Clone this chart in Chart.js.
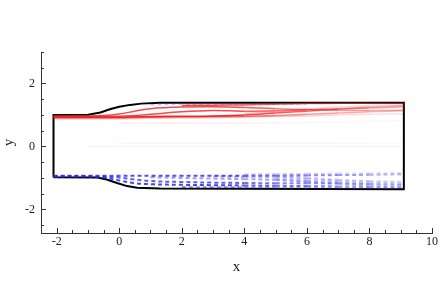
<!DOCTYPE html>
<html>
<head>
<meta charset="utf-8">
<script src="https://cdn.jsdelivr.net/npm/chart.js@4.4.0/dist/chart.umd.min.js"></script>
<style>
  html, body { margin: 0; padding: 0; background: #fff; }
  #wrap { width: 444px; height: 282px; }
</style>
</head>
<body>
<div id="wrap"><canvas id="chart"></canvas></div>
<script>
// tick labels
const xTicks = [-2, 0, 2, 4, 6, 8, 10];
const yTicks = [-2, 0, 2];

// channel outline (closed)
const wallX = [-2.1, -2.1, -1, -0.6, -0.3, 0, 0.35, 0.7, 1.3, 9.1, 9.1, 1.3, 0.57, 0.25, -0.07, -0.4, -0.7, -2.1];
const wallY = [-0.98, 1.0, 1.01, 1.08, 1.18, 1.26, 1.32, 1.36, 1.39, 1.39, -1.36, -1.34, -1.31, -1.26, -1.16, -1.05, -0.99, -0.98];

// x stations of the contour lines
const stations = [-2.1, -1, -0.5, 0, 0.5, 1, 2, 3, 4, 5, 6, 7, 8, 9.1];

// positive contours (red, solid)
const red1 = [0.97, 0.97, 0.98, 1.03, 1.12, 1.20, 1.25, 1.26, 1.24, 1.20, 1.17, 1.15, 1.14, 1.14];
const red2 = [0.95, 0.95, 0.95, 0.96, 0.98, 1.02, 1.10, 1.14, 1.12, 1.13, 1.16, 1.20, 1.25, 1.30];
const red3 = [0.93, 0.93, 0.93, 0.93, 0.94, 0.95, 0.96, 0.97, 1.00, 1.06, 1.12, 1.18, 1.22, 1.26];
const red4 = [0.91, 0.91, 0.91, 0.91, 0.92, 0.93, 0.94, 0.95, 0.96, 0.98, 1.02, 1.06, 1.10, 1.14];
const red5 = [null, null, null, null, null, null, 1.30, 1.31, 1.32, 1.34, 1.36, 1.37, 1.37, 1.37];
const red6 = [0.88, 0.88, 0.88, 0.88, 0.89, 0.90, 0.91, 0.92, 0.93, 0.95, 0.97, 1.00, 1.02, 1.04];
const red7 = [null, null, null, null, null, null, null, null, 1.05, 1.10, 1.18, 1.25, 1.30, 1.33];
const red8 = [null, null, null, 0.74, 0.74, 0.74, 0.74, 0.74, 0.74, 0.75, 0.76, 0.78, 0.80, 0.82];
const red9 = [null, null, null, 0.10, 0.10, 0.10, 0.10, 0.10, 0.10, 0.10, 0.10, 0.10, 0.10, 0.10];
const zero = [null, 0, 0, 0, 0, 0, 0, 0, 0, 0, 0, 0, 0, 0];

// negative contours (blue, dashed)
const blue1 = [-0.93, -0.93, -0.93, -0.93, -0.93, -0.93, -0.93, -0.93, -0.93, -0.93, -0.92, -0.91, -0.90, -0.88];
const blue2 = [-0.95, -0.95, -0.96, -0.99, -1.05, -1.10, -1.13, -1.15, -1.16, -1.17, -1.17, -1.18, -1.20, -1.22];
const blue3 = [-0.96, -0.96, -0.99, -1.08, -1.17, -1.20, -1.22, -1.23, -1.24, -1.25, -1.26, -1.27, -1.28, -1.30];
const blue4 = [null, null, null, null, null, -0.98, -1.00, -1.02, -1.04, -1.07, -1.10, -1.13, -1.17, -1.20];
const blue5 = [null, null, null, null, null, null, null, -0.95, -0.97, -1.00, -1.04, -1.08, -1.12, -1.15];
const blue6 = [null, null, null, null, null, null, null, null, -0.89, -0.88, -0.87, -0.86, -0.85, -0.83];
const blue7 = [null, null, null, null, null, null, -1.29, -1.30, -1.30, -1.31, -1.31, -1.32, -1.32, -1.32];
const blue8 = [null, null, null, null, null, 1.33, 1.35, 1.35, 1.35, 1.35, 1.35, null, null, null];
const blue9 = [null, null, null, null, null, null, null, null, null, -0.95, -1.0, -1.06, -1.1, -1.12];
const blue10 = [null, null, null, null, null, null, null, null, null, -1.05, -1.12, -1.18, -1.24, -1.27];

function pts(ys) {
  const out = [];
  ys.forEach((y, i) => { if (y !== null) out.push({ x: stations[i], y: y }); });
  return out;
}

// contours get lighter towards the outlet
function fade(x) {
  if (x < 3) return 1;
  return Math.max(0.35, 1 - (x - 3) * 0.11);
}

function red(ys, a) {
  return {
    data: pts(ys), borderWidth: 1.5, tension: 0.35,
    borderColor: `rgba(235,30,30,${a})`,
    segment: { borderColor: c => `rgba(235,30,30,${a * fade(c.p0.parsed.x)})` }
  };
}
function blue(ys, a) {
  return {
    data: pts(ys), borderWidth: 2, borderDash: [4, 3], tension: 0.35,
    borderColor: `rgba(40,40,220,${a})`,
    segment: { borderColor: c => `rgba(40,40,220,${a * fade(c.p0.parsed.x)})` }
  };
}

const inwardTicks = {
  id: 'inwardTicks',
  afterDraw(chart) {
    const ctx = chart.ctx;
    const xs = chart.scales.x, ys = chart.scales.y;
    ctx.save();
    ctx.strokeStyle = '#333';
    ctx.lineWidth = 1;
    ctx.beginPath();
    for (let v = -2.5; v <= 10.001; v += 0.5) {
      const px = Math.round(xs.getPixelForValue(v)) + 0.5;
      const len = Math.abs(v % 2) < 1e-6 ? 5 : 3;
      ctx.moveTo(px, xs.top);
      ctx.lineTo(px, xs.top - len);
    }
    for (let v = -2.5; v <= 3.001; v += 0.5) {
      const py = Math.round(ys.getPixelForValue(v)) + 0.5;
      const len = Math.abs(v % 2) < 1e-6 ? 5 : 3;
      ctx.moveTo(ys.right, py);
      ctx.lineTo(ys.right + len, py);
    }
    ctx.stroke();
    ctx.restore();
  }
};

const font = { family: 'Liberation Serif', size: 12 };

new Chart(document.getElementById('chart'), {
  type: 'scatter',
  data: {
    datasets: [
      red(red9, 0.06), red(red8, 0.08),
      { data: pts(zero), borderColor: 'rgba(150,150,150,0.12)', borderWidth: 1, tension: 0 },
      red(red7, 0.3), red(red6, 0.3), red(red4, 0.65), red(red3, 0.9),
      red(red2, 0.8), red(red1, 0.8), red(red5, 0.8),
      blue(blue8, 0.25), blue(blue6, 0.3), blue(blue5, 0.35), blue(blue4, 0.45),
      blue(blue9, 0.35), blue(blue10, 0.35),
      blue(blue7, 0.5), blue(blue2, 0.75), blue(blue3, 0.85), blue(blue1, 0.8),
      {
        data: wallX.map((x, i) => ({ x: x, y: wallY[i] })),
        borderColor: '#000', borderWidth: 2, tension: 0
      }
    ].map(d => Object.assign({ showLine: true, pointRadius: 0, fill: false }, d))
  },
  options: {
    animation: false,
    responsive: true,
    maintainAspectRatio: false,
    layout: { padding: { top: 52, right: 12, left: 0, bottom: 0 } },
    plugins: {
      legend: { display: false },
      tooltip: { enabled: false }
    },
    scales: {
      x: {
        type: 'linear', min: -2.5, max: 10,
        afterFit: s => { s.height = 49; },
        afterBuildTicks: s => { s.ticks = xTicks.map(v => ({ value: v })); },
        grid: { display: false, drawTicks: false },
        border: { display: true, color: '#333', width: 1 },
        ticks: { font: font, color: '#222', padding: 2, maxRotation: 0 },
        title: { display: true, text: 'x', font: { family: 'Liberation Serif', size: 15 }, color: '#222', padding: { top: 6, bottom: 6 } }
      },
      y: {
        type: 'linear', min: -2.75, max: 3,
        afterFit: s => { s.width = 41; },
        afterBuildTicks: s => { s.ticks = yTicks.map(v => ({ value: v })); },
        grid: { display: false, drawTicks: false },
        border: { display: true, color: '#333', width: 1 },
        ticks: { font: font, color: '#222', padding: 6 },
        title: { display: true, text: 'y', font: { family: 'Liberation Serif', size: 15 }, color: '#222', padding: 0 }
      }
    }
  },
  plugins: [inwardTicks]
});
</script>
</body>
</html>
